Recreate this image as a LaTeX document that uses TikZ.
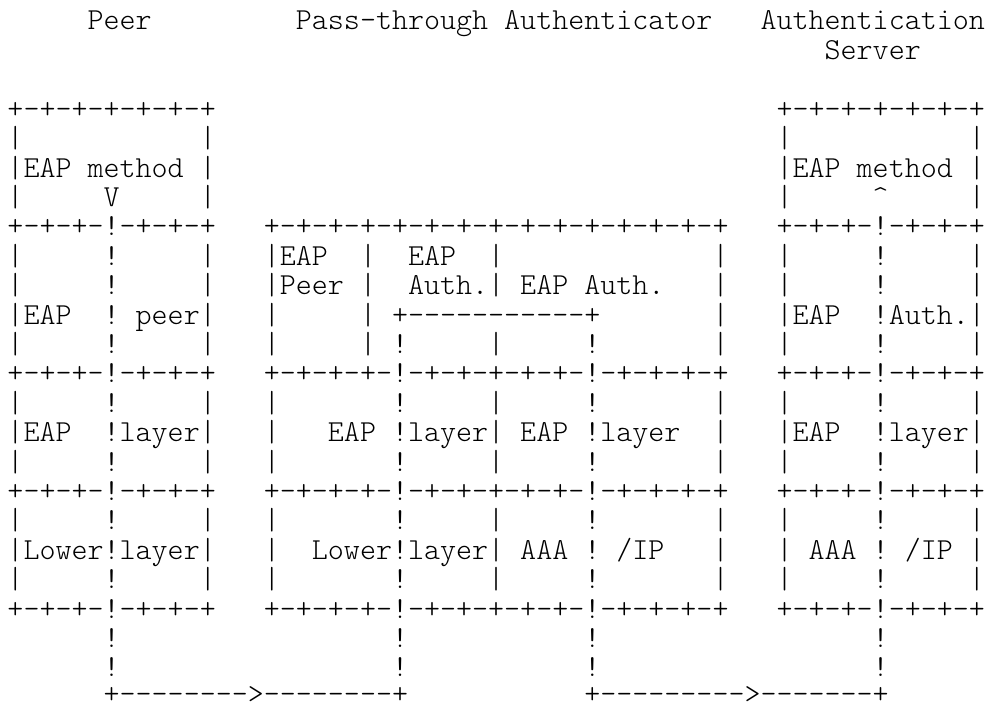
\documentclass[tikz,border=0pt]{standalone}
\usepackage{fontspec}
\setmonofont{lmmonolt10-regular.otf}
\tikzset{
  row/.style={anchor=base west, inner sep=0pt, outer sep=0pt, text=black,
    text height=0.62em, text depth=0pt,
    font=\fontsize{15.26pt}{15.26pt}\selectfont\ttfamily}
}
\begin{document}
\begin{tikzpicture}[x=0.5pt,y=-0.5pt]
\useasboundingbox (0,0) rectangle (986,706);
\node[row] (r0)  at (7.5,30)    {~~~~~Peer~~~~~~~~~Pass-through~Authenticator~~~Authentication};
\node[row] (r1)  at (7.5,59.4)  {~~~~~~~~~~~~~~~~~~~~~~~~~~~~~~~~~~~~~~~~~~~~~~~~~~~Server};
\node[row] (r3)  at (7.5,118.2) {+-+-+-+-+-+-+~~~~~~~~~~~~~~~~~~~~~~~~~~~~~~~~~~~+-+-+-+-+-+-+};
\node[row] (r4)  at (7.5,147.6) {|~~~~~~~~~~~|~~~~~~~~~~~~~~~~~~~~~~~~~~~~~~~~~~~|~~~~~~~~~~~|};
\node[row] (r5)  at (7.5,177)   {|EAP~method~|~~~~~~~~~~~~~~~~~~~~~~~~~~~~~~~~~~~|EAP~method~|};
\node[row] (r6)  at (7.5,206.4) {|~~~~~V~~~~~|~~~~~~~~~~~~~~~~~~~~~~~~~~~~~~~~~~~|~~~~~\textasciicircum~~~~~|};
\node[row] (r7)  at (7.5,235.8) {+-+-+-!-+-+-+~~~+-+-+-+-+-+-+-+-+-+-+-+-+-+-+~~~+-+-+-!-+-+-+};
\node[row] (r8)  at (7.5,265.2) {|~~~~~!~~~~~|~~~|EAP~~|~~EAP~~|~~~~~~~~~~~~~|~~~|~~~~~!~~~~~|};
\node[row] (r9)  at (7.5,294.6) {|~~~~~!~~~~~|~~~|Peer~|~~Auth.|~EAP~Auth.~~~|~~~|~~~~~!~~~~~|};
\node[row] (r10) at (7.5,324)   {|EAP~~!~peer|~~~|~~~~~|~+-----------+~~~~~~~|~~~|EAP~~!Auth.|};
\node[row] (r11) at (7.5,353.4) {|~~~~~!~~~~~|~~~|~~~~~|~!~~~~~|~~~~~!~~~~~~~|~~~|~~~~~!~~~~~|};
\node[row] (r12) at (7.5,382.8) {+-+-+-!-+-+-+~~~+-+-+-+-!-+-+-+-+-+-!-+-+-+-+~~~+-+-+-!-+-+-+};
\node[row] (r13) at (7.5,412.2) {|~~~~~!~~~~~|~~~|~~~~~~~!~~~~~|~~~~~!~~~~~~~|~~~|~~~~~!~~~~~|};
\node[row] (r14) at (7.5,441.6) {|EAP~~!layer|~~~|~~~EAP~!layer|~EAP~!layer~~|~~~|EAP~~!layer|};
\node[row] (r15) at (7.5,471)   {|~~~~~!~~~~~|~~~|~~~~~~~!~~~~~|~~~~~!~~~~~~~|~~~|~~~~~!~~~~~|};
\node[row] (r16) at (7.5,500.4) {+-+-+-!-+-+-+~~~+-+-+-+-!-+-+-+-+-+-!-+-+-+-+~~~+-+-+-!-+-+-+};
\node[row] (r17) at (7.5,529.8) {|~~~~~!~~~~~|~~~|~~~~~~~!~~~~~|~~~~~!~~~~~~~|~~~|~~~~~!~~~~~|};
\node[row] (r18) at (7.5,559.2) {|Lower!layer|~~~|~~Lower!layer|~AAA~!~/IP~~~|~~~|~AAA~!~/IP~|};
\node[row] (r19) at (7.5,588.6) {|~~~~~!~~~~~|~~~|~~~~~~~!~~~~~|~~~~~!~~~~~~~|~~~|~~~~~!~~~~~|};
\node[row] (r20) at (7.5,618)   {+-+-+-!-+-+-+~~~+-+-+-+-!-+-+-+-+-+-!-+-+-+-+~~~+-+-+-!-+-+-+};
\node[row] (r21) at (7.5,647.4) {~~~~~~!~~~~~~~~~~~~~~~~~!~~~~~~~~~~~!~~~~~~~~~~~~~~~~~!};
\node[row] (r22) at (7.5,676.8) {~~~~~~!~~~~~~~~~~~~~~~~~!~~~~~~~~~~~!~~~~~~~~~~~~~~~~~!};
\node[row] (r23) at (7.5,703)   {~~~~~~+-------->--------+~~~~~~~~~~~+--------->-------+};
\end{tikzpicture}
\end{document}
